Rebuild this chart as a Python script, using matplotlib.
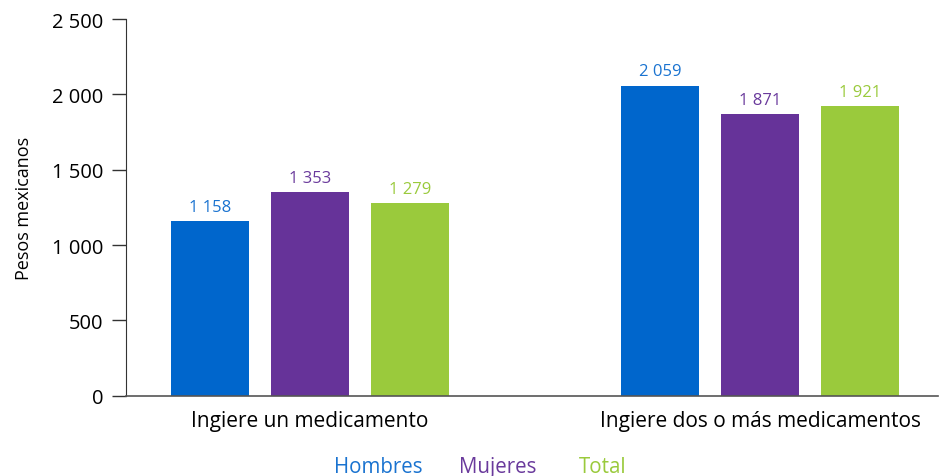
import numpy as np
import matplotlib.pyplot as plt

plt.rcParams['font.family'] = ['Open Sans', 'DejaVu Sans']

categorias = ['Ingiere un medicamento', 'Ingiere dos o más medicamentos']
series = ['Hombres', 'Mujeres', 'Total']
hombres = [1158, 2059]
mujeres = [1353, 1871]
total = [1279, 1921]
colores = ['#0066CC', '#663399', '#9ACA3C']
colores_texto = ['#1A73D0', '#6A3A9C', '#9ACA3C']
yticks = [0, 500, 1000, 1500, 2000, 2500]


def fmt(v):
    return f'{v:,}'.replace(',', ' ')


fig = plt.figure(figsize=(9.39, 4.77), dpi=100)
ax = fig.add_axes([0.134, 0.168, 0.865, 0.79])

centros = np.array([1.0, 5.5])
ancho = 0.78
for i, (vals, c, ct) in enumerate(zip([hombres, mujeres, total], colores, colores_texto)):
    x = centros + (i - 1)
    ax.bar(x, vals, width=ancho, color=c)
    for xi, v in zip(x, vals):
        ax.annotate(fmt(v), (xi, v), xytext=(0, 4.5), textcoords='offset points',
                    ha='center', va='bottom', color=ct, fontsize=12)

ax.set_xlim(-0.84, 7.28)
ax.set_ylim(0, 2500)
ax.set_yticks(yticks)
ax.set_yticklabels([fmt(v) for v in yticks], fontsize=14.5)
ax.set_xticks(centros)
ax.set_xticklabels(categorias, fontsize=15)
ax.tick_params(axis='x', length=0, pad=10)
ax.tick_params(axis='y', length=10, width=1, color='#333333', pad=6)
ax.set_ylabel('Pesos mexicanos', fontsize=13, labelpad=14)

for s in ['top', 'right']:
    ax.spines[s].set_visible(False)
ax.spines['left'].set_color('#333333')
ax.spines['bottom'].set_color('#555555')
ax.spines['bottom'].set_linewidth(1.2)

# leyenda solo con texto coloreado
xs_leyenda = [378, 498, 603]
for nombre, ct, xp in zip(series, colores_texto, xs_leyenda):
    fig.text(xp / 939, 1 - 468 / 477, nombre, color=ct, fontsize=14.8,
             ha='center', va='center')

fig.savefig('out.png', dpi=100)
